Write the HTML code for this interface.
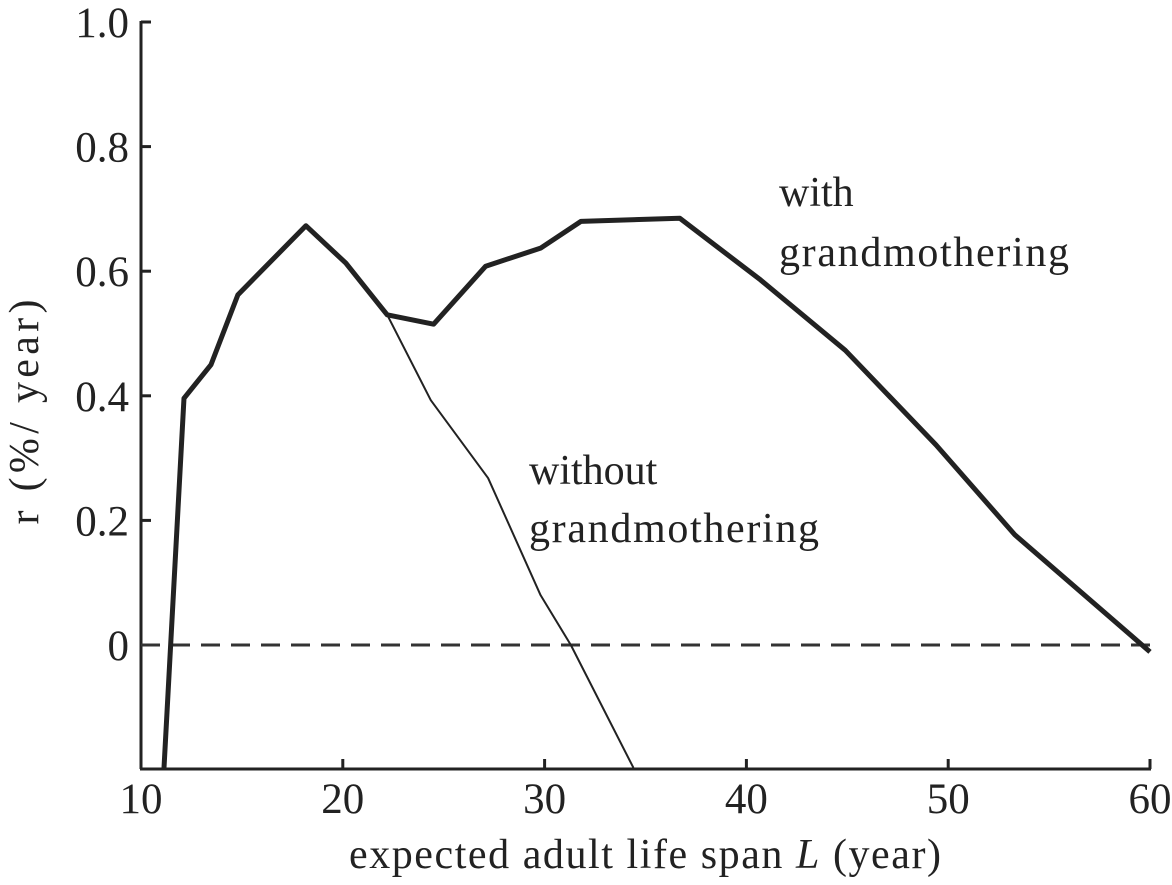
<!DOCTYPE html>
<html><head><meta charset="utf-8"><style>
body{margin:0;background:#fff}
svg{display:block;font-family:"Liberation Serif",serif;fill:#222}
</style></head><body>
<svg id="chart" width="1172" height="885" viewBox="0 0 1172 885" xmlns="http://www.w3.org/2000/svg">
<g id="axes"></g>
<g id="series"></g>
<text x="779" y="206" font-size="42">with</text>
<text x="779" y="266" font-size="42" textLength="290">grandmothering</text>
<text x="529" y="484" font-size="42">without</text>
<text x="529" y="542" font-size="42" textLength="290">grandmothering</text>
<text x="645" y="868" font-size="42" text-anchor="middle" textLength="592">expected adult life span <tspan font-style="italic">L</tspan> (year)</text>
<text transform="translate(38,412) rotate(-90)" font-size="42" text-anchor="middle" textLength="225">r (%/ year)</text>
</svg>
<script>
const xTicks=[10,20,30,40,50,60];
const yTicks=[0,0.2,0.4,0.6,0.8,1.0];
const yTickLabels=["0","0.2","0.4","0.6","0.8","1.0"];
const withX=[11.14,12.13,13.47,14.8,18.17,20.15,22.2,24.5,27.08,29.8,31.8,36.7,40.7,44.9,49.4,53.3,60];
const withY=[-0.197,0.396,0.45,0.562,0.673,0.613,0.53,0.515,0.608,0.637,0.68,0.685,0.586,0.473,0.321,0.177,-0.011];
const withoutX=[22.2,24.36,27.2,29.8,31.3,34.4];
const withoutY=[0.53,0.393,0.268,0.08,0,-0.197];
const NS="http://www.w3.org/2000/svg";
const X0=141,X1=1150,Y0=645,YB=769;
function sx(v){return X0+(v-10)*(X1-X0)/50;}
function sy(v){return Y0-v*(Y0-22)/1.0;}
function mk(tag,attrs,parent){const e=document.createElementNS(NS,tag);for(const k in attrs)e.setAttribute(k,attrs[k]);parent.appendChild(e);return e;}
const ax=document.getElementById('axes');
let l=mk('line',{x1:X0,y1:21,x2:X0,y2:YB,stroke:'#222','stroke-width':3},ax);


l=mk('line',{x1:X0-1,y1:YB,x2:X1+1,y2:YB,stroke:'#222','stroke-width':3},ax);


yTicks.forEach((v,i)=>{
 const t=mk('line',{x1:X0,y1:sy(v),x2:X0+10,y2:sy(v),stroke:'#222','stroke-width':3},ax);
 
 
 const tx=mk('text',{x:X0-12,y:sy(v)+15,'font-size':43,'text-anchor':'end'},ax);
 tx.textContent=yTickLabels[i];
 
 
});
xTicks.forEach(v=>{
 const t=mk('line',{x1:sx(v),y1:YB,x2:sx(v),y2:YB-10,stroke:'#222','stroke-width':3},ax);
 
 
 const tx=mk('text',{x:sx(v),y:YB+44,'font-size':43,'text-anchor':'middle'},ax);
 tx.textContent=String(v);
 
 
});
const z=mk('line',{x1:X0,y1:sy(0),x2:X1,y2:sy(0),stroke:'#333','stroke-width':3,'stroke-dasharray':'19,11'},ax);


const sr=document.getElementById('series');
function pts(xs,ys){return xs.map((x,i)=>sx(x)+','+sy(ys[i])).join(' ');}
const p2=mk('polyline',{points:pts(withoutX,withoutY),fill:'none',stroke:'#222','stroke-width':2,'stroke-linejoin':'round'},sr);


const p1=mk('polyline',{points:pts(withX,withY),fill:'none',stroke:'#222','stroke-width':5,'stroke-linejoin':'round'},sr);


</script>
</body></html>
